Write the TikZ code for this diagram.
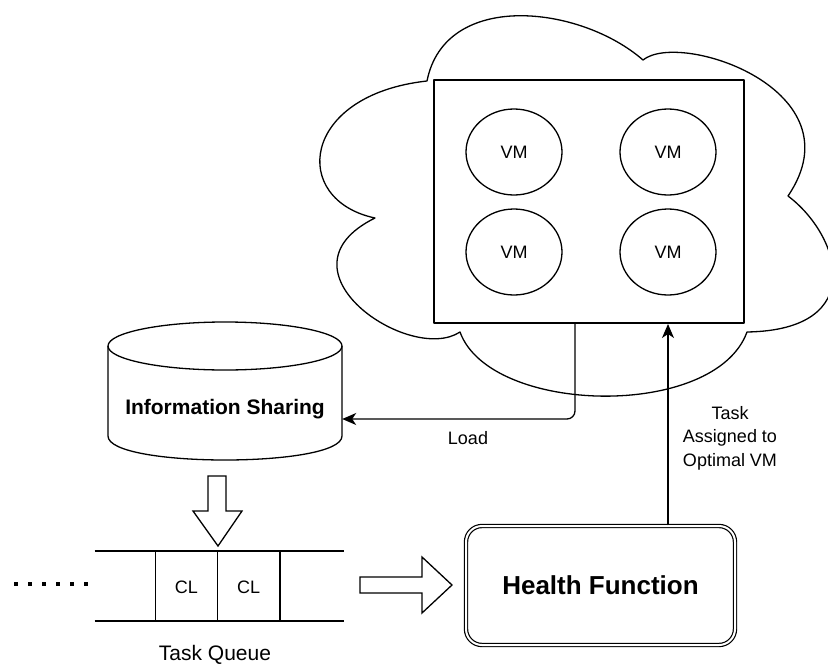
\documentclass[tikz,border=0pt]{standalone}
\usepackage{fontspec}
\setmainfont{Liberation Sans}
\usetikzlibrary{shapes.geometric,arrows.meta,calc}
\begin{document}
\begin{tikzpicture}[x=1pt,y=-1pt,
  line join=round,
  outline/.style={line width=1.3pt},
  vm/.style={ellipse, draw, line width=1.3pt, minimum width=96pt, minimum height=86pt,
    inner sep=0pt, font=\fontsize{18}{22}\selectfont},
  lbl/.style={font=\fontsize{18}{23.5}\selectfont, inner sep=0pt},
  conn/.style={line width=1.3pt, -{Stealth[length=14pt,width=12pt,inset=4pt]}},
  blockarrow/.style={draw, fill=white, line width=1.3pt, line join=miter},
  queueline/.style={line width=1.6pt},
  ]
\useasboundingbox (0,0) rectangle (828,667);

% cloud around the VM host
\draw[outline] (375,218)
  .. controls (290,200) and (300,95) .. (427,81)
  .. controls (445,-10) and (580,5) .. (643,60)
  .. controls (680,30) and (860,90) .. (788,196)
  .. controls (840,235) and (870,330) .. (747,332)
  .. controls (715,420) and (490,415) .. (460,332)
  .. controls (410,365) and (270,270) .. cycle;

% VM host box with four virtual machines
\node[draw, line width=2pt, minimum width=310pt, minimum height=243pt, inner sep=0pt]
  (host) at (589,201.5) {};
\node[vm] (vm1) at (514,152) {VM};
\node[vm] (vm2) at (668,152) {VM};
\node[vm] (vm3) at (514,252) {VM};
\node[vm] (vm4) at (668,252) {VM};

% information sharing database (cylinder)
\draw[outline] (108,346) -- (108,436)
  .. controls (108,468) and (342,468) .. (342,436) -- (342,346);
\draw[outline] (225,346) ellipse [x radius=117, y radius=24];
\node[font=\fontsize{21}{24}\selectfont\bfseries, minimum width=234pt, inner sep=0pt]
  (db) at (225,409) {Information Sharing};

% block arrow from database to queue
\draw[blockarrow] (208,476) -- (226,476) -- (226,511) -- (242,511) -- (218,546)
  -- (193,511) -- (208,511) -- cycle;

% task queue
\draw[line width=4pt, dash pattern=on 4pt off 10pt] (14,584) -- (90,584);
\draw[queueline] (94.5,551) -- (344,551);
\draw[queueline] (94.5,621) -- (344,621);
\draw[queueline] (155.5,551) -- (155.5,621);
\draw[queueline] (217.6,551) -- (217.6,621);
\draw[queueline] (279.7,551) -- (279.7,621);
\node[lbl] (cl1) at (186.5,587) {CL};
\node[lbl] (cl2) at (248.6,587) {CL};
\node[font=\fontsize{21}{24}\selectfont, inner sep=0pt] (tq) at (215,655) {Task Queue};

% block arrow from queue to health function
\draw[blockarrow] (360,577) -- (422,577) -- (422,557) -- (452,585) -- (422,613)
  -- (422,593) -- (360,593) -- cycle;

% health function
\node[draw, double, double distance=2pt, line width=1.2pt, rounded corners=16pt,
  minimum width=269pt, minimum height=119pt, inner sep=0pt,
  font=\fontsize{26}{30}\selectfont\bfseries] (hf) at (600.5,585.5) {Health Function};

% connectors
\draw[conn] (hf.north -| vm4) -- (host.south -| vm4);
\coordinate (lturn) at (575,419);
\draw[conn, rounded corners=8pt] (host.south -| lturn) -- (lturn) -- (db.east |- lturn);

% labels
\node[lbl] (loadlbl) at (468,438) {Load};
\node[lbl, align=center] (tasklbl) at (730,438) {Task\\Assigned to\\Optimal VM};
\end{tikzpicture}
\end{document}
